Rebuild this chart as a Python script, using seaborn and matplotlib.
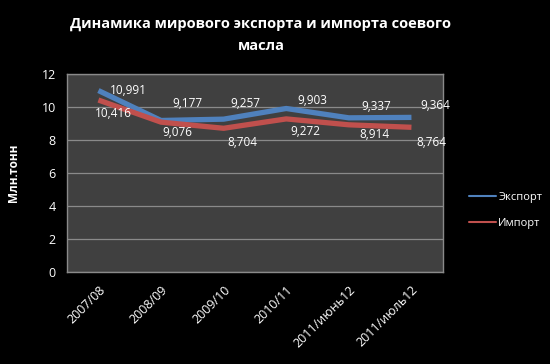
import matplotlib.pyplot as plt
import seaborn as sns
import pandas as pd

# Dati
periodi = ['2007/08', '2008/09', '2009/10', '2010/11', '2011/июнь12', '2011/июль12']
eksports = [10.991, 9.177, 9.257, 9.903, 9.337, 9.364]
imports = [10.416, 9.076, 8.704, 9.272, 8.914, 8.764]
serijas = ['Экспорт', 'Импорт']

df = pd.DataFrame({
    'Период': periodi * 2,
    'Серия': [serijas[0]] * len(periodi) + [serijas[1]] * len(periodi),
    'Значение': eksports + imports,
})
df['x'] = list(range(len(periodi))) * 2

sns.set_theme(style="dark")
plt.rcParams['font.family'] = ['Open Sans', 'DejaVu Sans']

fig = plt.figure(figsize=(5.5, 3.64), dpi=100, facecolor='black')
ax = fig.add_axes([0.122, 0.253, 0.683, 0.544])
ax.set_facecolor('#404040')

krasas = {'Экспорт': '#4F81BD', 'Импорт': '#C0504D'}
sns.lineplot(data=df, x='x', y='Значение', hue='Серия', palette=krasas,
             linewidth=3.8, ax=ax, legend=False, solid_capstyle='butt')

ax.set_xlim(-0.5, len(periodi) - 0.5)
ax.set_ylim(0, 12)
ax.set_yticks(range(0, 13, 2))
ax.set_xticks(range(len(periodi)))
ax.set_xticklabels(periodi, rotation=45, ha='right', rotation_mode='anchor')
ax.tick_params(colors='white', labelsize=9, length=0, pad=8)
ax.grid(axis='y', color='#8a8a8a', linewidth=0.9)
ax.grid(axis='x', visible=False)
for s in ax.spines.values():
    s.set_color('#8a8a8a')
    s.set_linewidth(1.0)
ax.set_xlabel('')
ax.set_ylabel('Млн.тонн', color='white', fontsize=8.5, fontweight='bold', labelpad=16)

# Vērtību uzraksti (nobīde pikseļos)
nob_eks = [(30, 0), (26, -17), (22, -16), (26, -8), (27, -11), (24, -12)]
nob_imp = [(15, 13), (16, 10), (19, 14), (19, 13), (26, 10), (20, 15)]
px = 72 / 100
for i, (v, (dx, dy)) in enumerate(zip(eksports, nob_eks)):
    ax.annotate(f'{v:.3f}'.replace('.', ','), (i, v), xytext=(dx * px, -dy * px),
                textcoords='offset points', ha='center', va='center',
                color='white', fontsize=8.5)
for i, (v, (dx, dy)) in enumerate(zip(imports, nob_imp)):
    ax.annotate(f'{v:.3f}'.replace('.', ','), (i, v), xytext=(dx * px, -dy * px),
                textcoords='offset points', ha='center', va='center',
                color='white', fontsize=8.5)

# Leģenda
rokt = [plt.Line2D([], [], color=krasas[s], linewidth=1.5) for s in serijas]
leg = fig.legend(rokt, serijas, loc='center left', bbox_to_anchor=(0.835, 0.422),
                 frameon=False, fontsize=8, labelspacing=1.3, handlelength=2.4,
                 handletextpad=0.2, labelcolor='white')

fig.text(261 / 550, 1 - 35 / 364, 'Динамика мирового экспорта и импорта соевого\nмасла',
         ha='center', va='center', color='white', fontsize=10.5, fontweight='bold',
         linespacing=1.65)

fig.savefig('out.png', dpi=100, facecolor='black')
